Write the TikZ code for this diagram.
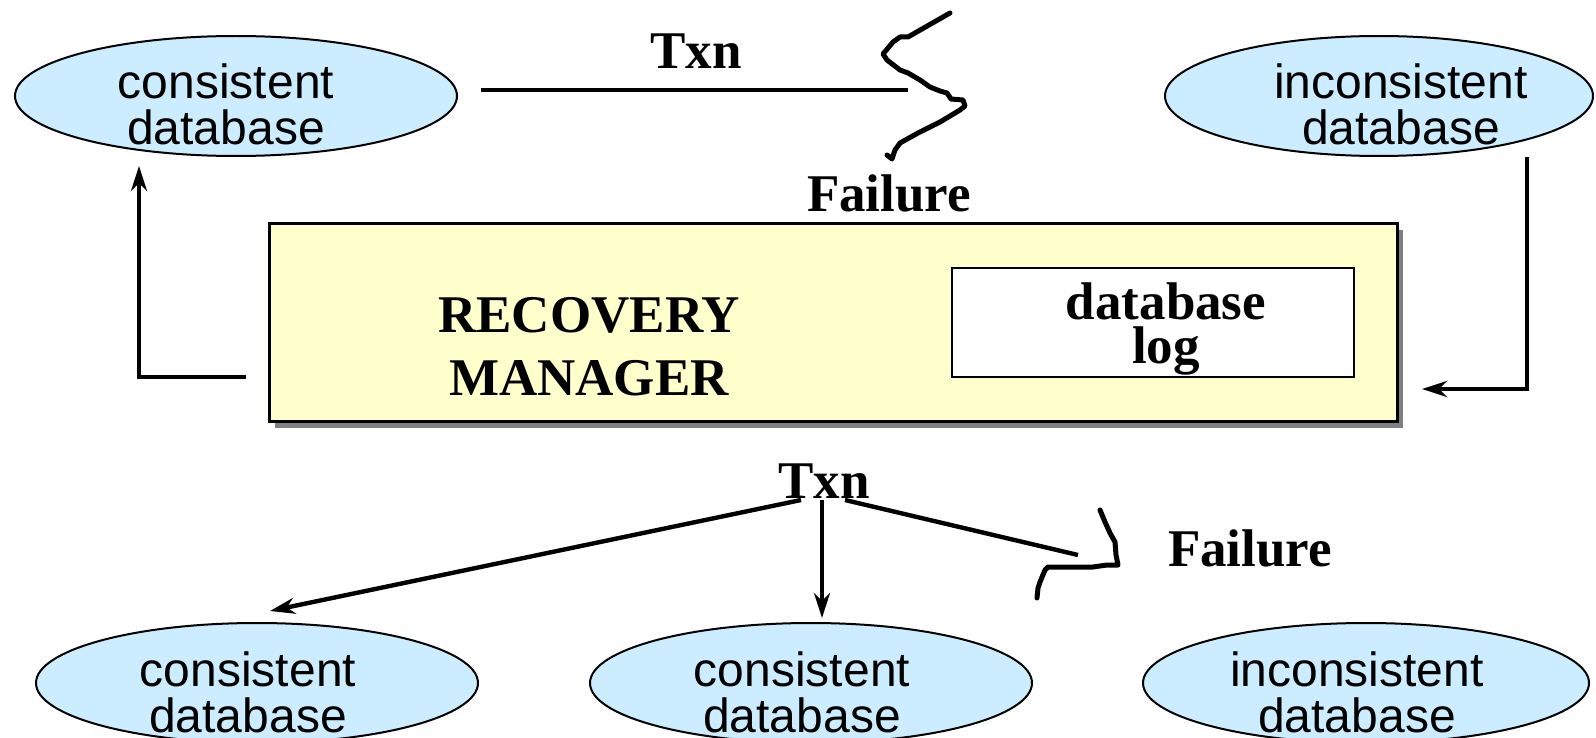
\documentclass[tikz,border=0pt]{standalone}
\usepackage{fontspec}
\setmainfont{Liberation Serif}
\setsansfont{Liberation Sans}
\usetikzlibrary{arrows.meta,shapes.geometric}
\definecolor{ellfill}{HTML}{CCECFF}
\definecolor{boxfill}{HTML}{FFFFCC}
\definecolor{shadowgray}{HTML}{808080}
\begin{document}
\begin{tikzpicture}[x=0.5pt,y=-0.5pt,
  db/.style={ellipse,draw=black,line width=1pt,fill=ellfill,inner sep=0pt,minimum width=221pt,minimum height=60pt},
  dbtext/.style={font=\fontsize{24}{23}\selectfont\sffamily,align=center,inner sep=0pt},
  lbl/.style={font=\fontsize{26.5}{22}\selectfont\bfseries,align=center,inner sep=0pt},
  conn/.style={line width=2.2pt},
  arr/.style={line width=2.2pt,-{Stealth[length=12.5pt,width=8pt,inset=4pt]}},
  squig/.style={line width=2.5pt,line join=round,line cap=round}]
\useasboundingbox (0,0) rectangle (1596,738);
% top ellipses
\node[db] (cdb) at (236,96) {};
\node[dbtext] (cdbt) at (226,104) {consistent\\database};
\node[db,minimum width=214pt] (idb) at (1379,96) {};
\node[dbtext] (idbt) at (1401,104) {inconsistent\\database};
% recovery manager box with shadow
\fill[shadowgray] (275,230) rectangle (1403,428);
\node[draw=black,line width=1.5pt,fill=boxfill,minimum width=564pt,minimum height=99pt,inner sep=0pt] (rm) at (833,322) {};
\node[lbl,font=\fontsize{26.5}{31.5}\selectfont\bfseries] (rmt) at (589,347) {RECOVERY\\MANAGER};
\node[draw=black,line width=1.3pt,fill=white,minimum width=201pt,minimum height=54.5pt,inner sep=0pt] (log) at (1153,322.5) {};
\node[lbl] (logt) at (1166,329) {database\\log};
% top labels
\node[lbl] (txn1) at (696,51) {Txn};
\node[lbl] (fail1) at (889,193) {Failure};
\coordinate (t1a) at (481,90);
\coordinate (t1b) at (908,90);
\draw[conn] (t1a) -- (t1b);
\draw[squig] (950,13) -- (908,37) -- (900,37) -- (893,42) -- (883,54) -- (887,60) -- (900,70) -- (908,73) -- (920,80) -- (930,87) -- (940,91) -- (947,93) -- (951,99) -- (963,100) -- (965,106) -- (960,110) -- (940,122) -- (918,133) -- (900,143) -- (895,150) -- (892,159) -- (887,155);
% side arrows
\coordinate (la) at (246,377);
\coordinate (lb) at (139,377);
\coordinate (lc) at (139,166);
\draw[arr,line join=miter] (la) -- (lb) -- (lc);
\coordinate (ra) at (1527,157);
\coordinate (rb) at (1527,389);
\coordinate (rc) at (1422,389);
\draw[arr,line join=miter] (ra) -- (rb) -- (rc);
% bottom
\node[lbl] (txn2) at (824,481) {Txn};
\node[lbl] (fail2) at (1250,548) {Failure};
\node[db] (b1) at (257,683) {};
\node[dbtext] (b1t) at (248,692) {consistent\\database};
\node[db] (b2) at (811,683) {};
\node[dbtext] (b2t) at (802,692) {consistent\\database};
\node[db,minimum width=223pt] (b3) at (1366,683) {};
\node[dbtext] (b3t) at (1357,692) {inconsistent\\database};
\coordinate (s1) at (801,500);
\coordinate (e1) at (270,611);
\coordinate (s2) at (822,500);
\coordinate (e2) at (822,618);
\coordinate (s3) at (845,500);
\coordinate (e3) at (1078,555);
\draw[arr] (s1) -- (e1);
\draw[arr] (s2) -- (e2);
\draw[conn] (s3) -- (e3);
\draw[squig] (1100,510) -- (1105,522) -- (1110,533) -- (1115,542) -- (1116,555) -- (1118,565) -- (1107,565) -- (1093,567) -- (1048,567) -- (1045,570) -- (1040,582) -- (1038,588) -- (1037,598);
\end{tikzpicture}
\end{document}
